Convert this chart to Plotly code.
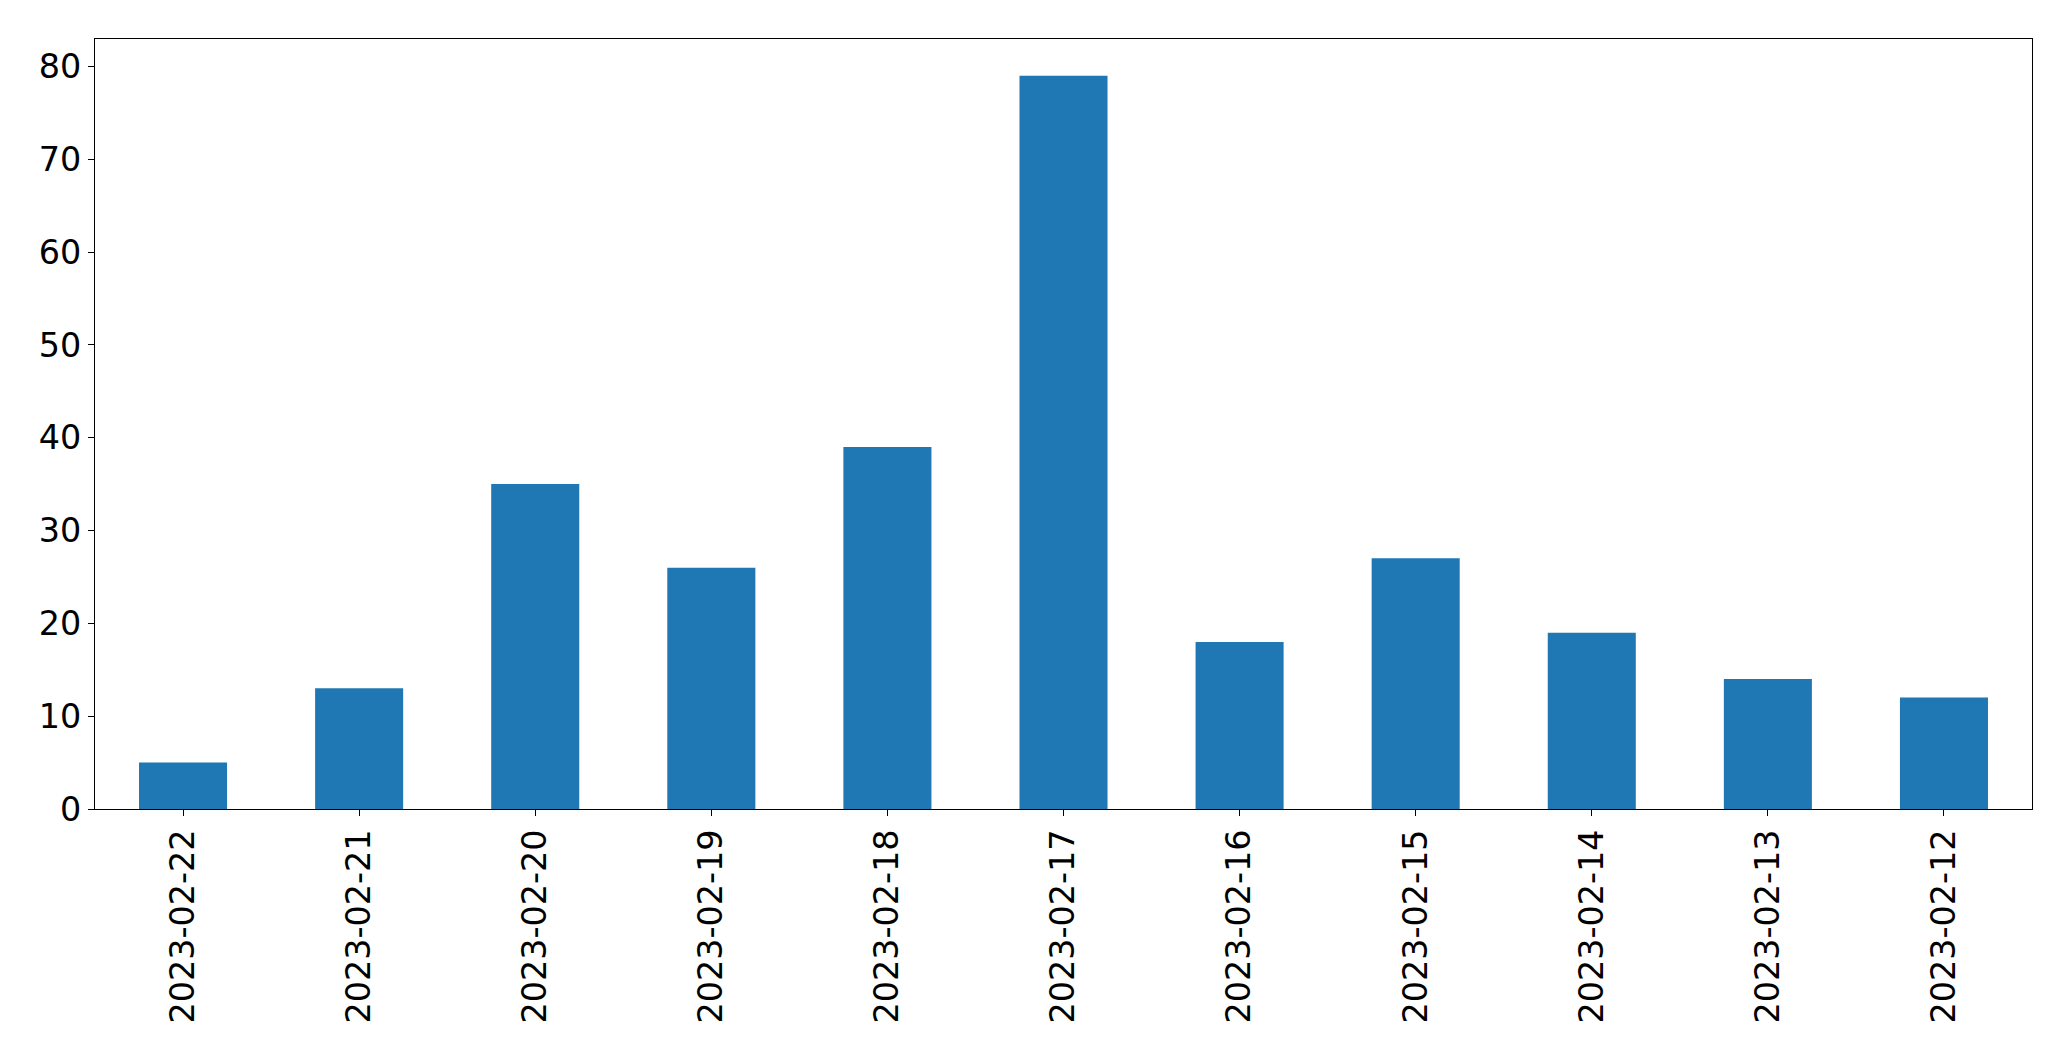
import plotly.graph_objects as go

dates = ["2023-02-22", "2023-02-21", "2023-02-20", "2023-02-19", "2023-02-18", "2023-02-17",
         "2023-02-16", "2023-02-15", "2023-02-14", "2023-02-13", "2023-02-12"]
counts = [5, 13, 35, 26, 39, 79, 18, 27, 19, 14, 12]
y_ticks = [0, 10, 20, 30, 40, 50, 60, 70, 80]

fig = go.Figure(go.Bar(
    x=list(range(len(dates))), y=counts, width=0.5,
    marker=dict(color="#1f77b4", line=dict(width=0)),
))

font = dict(family="DejaVu Sans", size=33.4, color="black")
fig.update_layout(
    width=2071, height=1061, autosize=False,
    margin=dict(l=95, r=39, t=39, b=252),
    plot_bgcolor="white", paper_bgcolor="white",
    showlegend=False, font=font,
)
fig.update_xaxes(
    range=[-0.5, len(dates) - 0.5],
    tickmode="array", tickvals=list(range(len(dates))), ticktext=dates,
    tickangle=-90, ticks="outside", ticklen=6, tickwidth=1.1, tickcolor="black",
    showline=True, linecolor="black", linewidth=1.1, mirror=True,
    showgrid=False, zeroline=False, tickfont=font,
)
fig.update_yaxes(
    range=[0, max(counts) * 1.05],
    tickmode="array", tickvals=y_ticks,
    ticks="outside", ticklen=6, tickwidth=1.1, tickcolor="black",
    showline=True, linecolor="black", linewidth=1.1, mirror=True,
    showgrid=False, zeroline=False, tickfont=font,
)
fig.write_html("out.html")
